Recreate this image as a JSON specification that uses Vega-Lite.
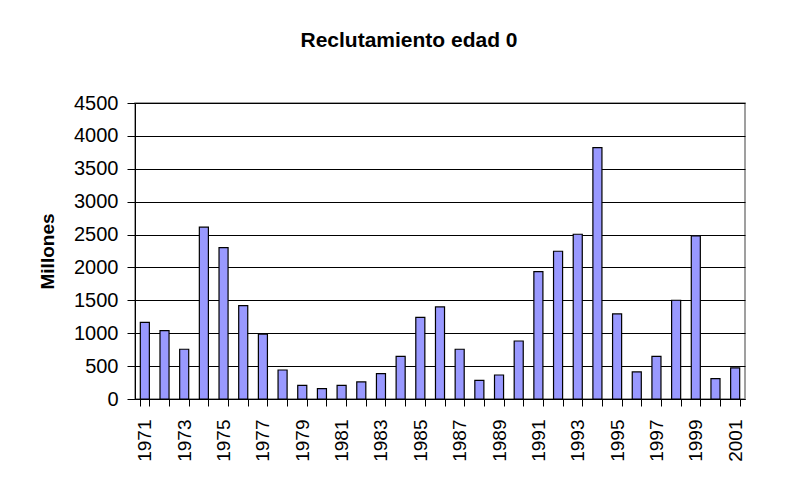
{
  "$schema": "https://vega.github.io/schema/vega-lite/v6.json",
  "width": 610,
  "height": 296,
  "autosize": {"type": "none"},
  "padding": {"left": 135, "top": 103, "right": 49, "bottom": 79},
  "background": "white",
  "title": {
    "text": "Reclutamiento edad 0",
    "font": "Liberation Sans",
    "fontSize": 21,
    "fontWeight": "bold",
    "color": "black",
    "anchor": "middle",
    "dx": -31,
    "offset": 42
  },
  "data": {
    "values": [
      {"year": 1971, "value": 1166},
      {"year": 1972, "value": 1040},
      {"year": 1973, "value": 756},
      {"year": 1974, "value": 2612},
      {"year": 1975, "value": 2302},
      {"year": 1976, "value": 1420},
      {"year": 1977, "value": 984},
      {"year": 1978, "value": 441},
      {"year": 1979, "value": 208},
      {"year": 1980, "value": 157},
      {"year": 1981, "value": 208},
      {"year": 1982, "value": 259},
      {"year": 1983, "value": 385},
      {"year": 1984, "value": 649},
      {"year": 1985, "value": 1242},
      {"year": 1986, "value": 1400},
      {"year": 1987, "value": 756},
      {"year": 1988, "value": 284},
      {"year": 1989, "value": 365},
      {"year": 1990, "value": 882},
      {"year": 1991, "value": 1937},
      {"year": 1992, "value": 2246},
      {"year": 1993, "value": 2505},
      {"year": 1994, "value": 3823},
      {"year": 1995, "value": 1293},
      {"year": 1996, "value": 411},
      {"year": 1997, "value": 649},
      {"year": 1998, "value": 1501},
      {"year": 1999, "value": 2480},
      {"year": 2000, "value": 309},
      {"year": 2001, "value": 472}
    ]
  },
  "mark": {"type": "bar", "fill": "#9999FF", "stroke": "black", "strokeWidth": 1.2},
  "encoding": {
    "x": {
      "field": "year",
      "type": "ordinal",
      "scale": {"paddingInner": 0.54, "paddingOuter": 0.27},
      "axis": {
        "title": null,
        "labelAngle": -90,
        "labelAlign": "right",
        "labelBaseline": "middle",
        "labelExpr": "datum.value % 2 == 1 ? datum.label : ''",
        "labelFont": "Liberation Sans",
        "labelFontSize": 19,
        "labelColor": "black",
        "labelPadding": 13,
        "labelOverlap": false,
        "tickBand": "extent",
        "tickSize": 7,
        "tickColor": "black",
        "domainColor": "black",
        "grid": false
      }
    },
    "y": {
      "field": "value",
      "type": "quantitative",
      "scale": {"domain": [0, 4500], "nice": false},
      "axis": {
        "title": "Millones",
        "titleFont": "Liberation Sans",
        "titleFontSize": 19,
        "titleFontWeight": "bold",
        "titleColor": "black",
        "titlePadding": 16,
        "format": "d",
        "values": [0, 500, 1000, 1500, 2000, 2500, 3000, 3500, 4000, 4500],
        "labelFont": "Liberation Sans",
        "labelFontSize": 20,
        "labelColor": "black",
        "labelPadding": 9,
        "tickSize": 8,
        "tickColor": "black",
        "domainColor": "black",
        "grid": true,
        "gridColor": "black",
        "gridWidth": 1
      }
    }
  },
  "config": {
    "view": {"stroke": "#808080", "strokeWidth": 1.5}
  }
}
